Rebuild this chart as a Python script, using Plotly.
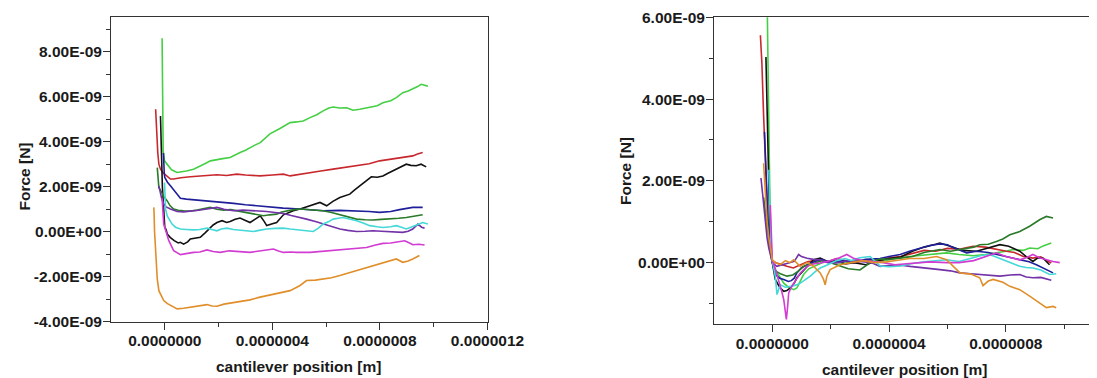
import plotly.graph_objects as go

# ---------------- data (x in nm, force in nN) ----------------
series_names = ["green", "red", "black", "blue", "darkgreen", "purple", "cyan", "magenta", "orange"]
series_colors = ["#45cf45", "#c8282d", "#111111", "#1f1f9a", "#2a7a2a", "#7232a8", "#45d8d8", "#d23cd2", "#e08e2a"]

# left panel
L_green_x = [-10, -6, -1, 9, 25, 46, 58, 80, 107, 125, 145, 170, 194, 215, 243, 262, 280, 300, 317, 335, 355, 391, 430, 466, 490, 515, 540, 565, 589, 610, 626, 650, 676, 700, 725, 745, 762, 790, 811, 840, 861, 885, 905, 922, 940, 953, 965, 978]
L_green_y = [8.6, 3.6, 3.15, 3.0, 2.75, 2.63, 2.65, 2.7, 2.78, 2.9, 3.0, 3.15, 3.22, 3.25, 3.30, 3.42, 3.52, 3.62, 3.74, 3.85, 3.96, 4.35, 4.6, 4.85, 4.88, 4.92, 5.07, 5.2, 5.37, 5.5, 5.54, 5.5, 5.51, 5.40, 5.44, 5.48, 5.51, 5.6, 5.73, 5.82, 5.96, 6.18, 6.25, 6.33, 6.45, 6.55, 6.5, 6.47]
L_red_x = [-34, -30, -26, -22, -16, -5, 10, 21, 33, 60, 95, 130, 160, 194, 230, 268, 300, 330, 354, 400, 441, 466, 503, 540, 580, 626, 670, 713, 760, 799, 840, 873, 900, 922, 940, 959]
L_red_y = [5.44, 4.3, 3.5, 3.0, 2.78, 2.6, 2.45, 2.34, 2.34, 2.4, 2.44, 2.48, 2.5, 2.53, 2.5, 2.56, 2.52, 2.5, 2.48, 2.52, 2.56, 2.48, 2.56, 2.63, 2.7, 2.78, 2.85, 2.93, 3.02, 3.15, 3.22, 3.30, 3.32, 3.37, 3.45, 3.52]
L_black_x = [-16, -14, -12, -9, -5, -2, 0, 5, 9, 20, 35, 50, 58, 70, 85, 95, 115, 132, 150, 163, 180, 194, 213, 230, 243, 262, 280, 300, 317, 335, 355, 370, 379, 400, 416, 441, 460, 478, 503, 540, 577, 602, 625, 651, 670, 688, 705, 725, 745, 768, 790, 811, 830, 848, 875, 898, 915, 935, 953, 972]
L_black_y = [5.14, 4.2, 3.0, 2.0, 1.2, 0.6, 0.19, 0.1, -0.1, -0.25, -0.4, -0.5, -0.47, -0.55, -0.45, -0.32, -0.3, -0.25, -0.05, 0.12, 0.3, 0.41, 0.49, 0.41, 0.45, 0.55, 0.61, 0.5, 0.41, 0.55, 0.71, 0.45, 0.27, 0.35, 0.41, 0.75, 0.85, 0.93, 1.01, 1.15, 1.30, 1.15, 1.35, 1.52, 1.58, 1.67, 1.85, 2.04, 2.25, 2.44, 2.42, 2.48, 2.60, 2.71, 2.85, 3.00, 2.95, 2.93, 3.00, 2.88]
L_blue_x = [-5, -4, -2, 0, 10, 21, 33, 46, 58, 80, 100, 132, 170, 200, 256, 300, 340, 379, 440, 503, 550, 589, 650, 713, 760, 799, 840, 873, 900, 922, 959]
L_blue_y = [3.5, 2.9, 2.6, 2.41, 2.2, 2.04, 1.85, 1.67, 1.49, 1.45, 1.43, 1.41, 1.36, 1.32, 1.26, 1.2, 1.15, 1.12, 1.05, 1.01, 0.97, 0.93, 0.95, 0.93, 0.90, 0.86, 0.90, 0.98, 1.02, 1.08, 1.08]
L_dgreen_x = [-28, -26, -24, -22, -16, -6, 9, 20, 33, 50, 70, 95, 120, 145, 169, 194, 218, 245, 268, 295, 317, 340, 367, 390, 416, 435, 453, 480, 503, 540, 589, 620, 651, 680, 713, 745, 774, 805, 836, 870, 898, 930, 959]
L_dgreen_y = [2.85, 2.4, 2.1, 1.96, 1.85, 1.6, 1.37, 1.15, 1.01, 0.95, 0.93, 0.92, 0.96, 1.02, 1.08, 1.0, 0.96, 0.98, 0.93, 0.85, 0.81, 0.75, 0.71, 0.75, 0.78, 0.88, 0.93, 0.98, 1.01, 0.98, 0.93, 0.85, 0.75, 0.65, 0.56, 0.53, 0.52, 0.55, 0.56, 0.6, 0.63, 0.68, 0.75]
L_purple_x = [-22, -18, -12, -5, 5, 21, 46, 70, 95, 125, 157, 175, 194, 220, 256, 290, 317, 350, 379, 410, 441, 470, 490, 527, 560, 589, 620, 651, 680, 713, 745, 774, 805, 836, 860, 885, 905, 922, 941, 955, 966]
L_purple_y = [2.04, 1.75, 1.5, 1.25, 1.1, 1.01, 0.90, 0.88, 0.90, 0.95, 1.01, 1.05, 1.08, 1.0, 0.93, 0.96, 0.93, 0.92, 0.90, 0.86, 0.81, 0.72, 0.67, 0.56, 0.45, 0.34, 0.24, 0.12, 0.06, 0.01, 0.02, 0.04, 0.02, 0.01, -0.02, -0.03, 0.02, 0.12, 0.34, 0.2, 0.16]
L_cyan_x = [-1, 1, 3, 9, 18, 27, 40, 58, 80, 107, 130, 157, 175, 194, 210, 231, 255, 280, 305, 330, 355, 379, 410, 441, 466, 490, 515, 552, 570, 589, 610, 626, 645, 663, 690, 713, 740, 762, 790, 811, 840, 861, 880, 898, 915, 935, 948, 959, 978]
L_cyan_y = [2.19, 1.5, 1.0, 0.7, 0.5, 0.34, 0.2, 0.12, 0.1, 0.08, 0.1, 0.16, 0.1, 0.04, 0.12, 0.16, 0.1, 0.08, 0.05, 0.01, 0.07, 0.12, 0.15, 0.16, 0.12, 0.08, 0.04, 0.01, 0.15, 0.34, 0.45, 0.56, 0.6, 0.63, 0.55, 0.49, 0.38, 0.27, 0.22, 0.19, 0.22, 0.27, 0.2, 0.12, 0.2, 0.27, 0.35, 0.41, 0.34]
L_magenta_x = [-10, -8, -4, 15, 33, 58, 80, 107, 130, 157, 180, 206, 240, 268, 290, 317, 345, 367, 390, 404, 420, 441, 470, 490, 540, 580, 614, 650, 688, 720, 750, 780, 811, 840, 861, 892, 910, 922, 945, 966]
L_magenta_y = [1.49, 0.9, 0.34, -0.40, -0.84, -1.02, -0.97, -0.92, -0.9, -0.81, -0.88, -0.92, -0.85, -0.87, -0.9, -0.92, -0.87, -0.84, -0.8, -0.77, -0.85, -0.92, -0.9, -0.92, -0.92, -0.88, -0.84, -0.8, -0.77, -0.74, -0.70, -0.6, -0.52, -0.5, -0.47, -0.40, -0.5, -0.58, -0.56, -0.59]
L_orange_x = [-41, -40, -38, -34, -28, -22, -10, -4, 10, 21, 46, 70, 95, 125, 157, 175, 194, 220, 256, 290, 317, 350, 379, 410, 441, 466, 503, 527, 560, 589, 620, 651, 680, 713, 745, 774, 805, 836, 861, 885, 905, 922, 947]
L_orange_y = [1.08, 0.9, 0.0, -1.14, -2.1, -2.62, -2.95, -3.06, -3.2, -3.28, -3.43, -3.40, -3.36, -3.3, -3.24, -3.3, -3.31, -3.22, -3.14, -3.08, -3.03, -2.92, -2.84, -2.75, -2.69, -2.62, -2.39, -2.17, -2.15, -2.10, -2.05, -1.95, -1.85, -1.73, -1.62, -1.51, -1.4, -1.29, -1.21, -1.36, -1.3, -1.21, -1.06]

# right panel
R_green_x = [-18, -16, -13, -9, -5, 0, 10, 25, 39, 55, 73, 84, 95, 107, 125, 141, 170, 200, 240, 280, 320, 369, 420, 470, 520, 560, 597, 640, 688, 730, 768, 800, 825, 860, 882, 910, 928, 956]
R_green_y = [6.5, 5.2, 3.5, 1.8, 0.5, 0.05, -0.17, -0.35, -0.50, -0.6, -0.66, -0.62, -0.45, -0.29, -0.15, -0.09, 0.0, 0.05, -0.02, 0.03, 0.06, 0.03, 0.1, 0.15, 0.18, 0.22, 0.24, 0.2, 0.17, 0.2, 0.24, 0.28, 0.32, 0.3, 0.36, 0.34, 0.41, 0.48]
R_red_x = [-41, -36, -30, -22, -15, -8, 0, 12, 30, 50, 72, 95, 120, 145, 165, 190, 220, 250, 280, 310, 340, 370, 400, 440, 480, 520, 560, 600, 640, 688, 730, 770, 802, 830, 860, 893, 920, 940, 956]
R_red_y = [5.56, 4.9, 3.6, 2.0, 0.9, 0.3, 0.05, 0.0, -0.05, -0.09, -0.13, -0.05, 0.02, 0.05, 0.07, 0.02, 0.10, 0.05, 0.0, 0.04, 0.08, 0.05, 0.12, 0.15, 0.22, 0.3, 0.28, 0.35, 0.33, 0.40, 0.38, 0.32, 0.28, 0.25, 0.15, 0.11, 0.14, 0.05, -0.01]
R_black_x = [-22, -19, -16, -12, -8, -4, 0, 10, 25, 39, 50, 62, 75, 84, 95, 107, 125, 141, 164, 190, 220, 250, 280, 320, 360, 400, 440, 480, 520, 560, 574, 610, 650, 700, 740, 780, 810, 848, 870, 893, 910, 928, 950]
R_black_y = [5.03, 4.0, 2.8, 1.5, 0.6, 0.25, 0.0, -0.41, -0.6, -0.70, -0.68, -0.62, -0.5, -0.37, -0.28, -0.17, -0.05, 0.07, 0.11, 0.02, 0.06, -0.03, 0.0, -0.05, 0.05, 0.10, 0.14, 0.28, 0.38, 0.45, 0.48, 0.40, 0.30, 0.28, 0.36, 0.44, 0.40, 0.28, 0.15, 0.03, 0.12, 0.11, -0.05]
R_blue_x = [-27, -24, -20, -15, -10, -5, 0, 10, 25, 39, 55, 65, 75, 84, 100, 120, 145, 170, 200, 240, 280, 320, 369, 400, 438, 470, 506, 540, 574, 600, 609, 640, 666, 700, 740, 770, 802, 830, 859, 880, 905, 920, 939, 962]
R_blue_y = [3.2, 2.6, 1.8, 1.0, 0.45, 0.15, 0.0, -0.29, -0.38, -0.41, -0.46, -0.44, -0.38, -0.25, -0.12, -0.05, 0.03, 0.08, 0.0, 0.05, 0.02, 0.08, 0.1, 0.15, 0.20, 0.28, 0.36, 0.42, 0.46, 0.44, 0.40, 0.32, 0.24, 0.28, 0.25, 0.2, 0.15, 0.10, 0.07, 0.02, -0.05, -0.10, -0.17, -0.25]
R_dgreen_x = [-30, -25, -20, -14, -8, -3, 0, 12, 30, 50, 70, 90, 110, 140, 170, 200, 230, 260, 300, 340, 369, 400, 438, 480, 520, 574, 610, 654, 690, 711, 740, 768, 790, 814, 848, 882, 916, 939, 962]
R_dgreen_y = [1.6, 1.3, 1.0, 0.6, 0.3, 0.1, 0.0, -0.21, -0.28, -0.33, -0.3, -0.2, -0.08, -0.02, 0.05, 0.0, -0.08, -0.15, -0.18, 0.02, 0.09, 0.08, 0.11, 0.15, 0.25, 0.32, 0.28, 0.33, 0.38, 0.44, 0.45, 0.52, 0.58, 0.68, 0.76, 0.89, 1.05, 1.13, 1.09]
R_purple_x = [-39, -35, -30, -24, -18, -12, -6, 0, 15, 38, 60, 75, 90, 100, 119, 140, 164, 190, 221, 260, 301, 340, 369, 392, 430, 472, 520, 574, 610, 643, 680, 711, 745, 780, 815, 848, 870, 893, 920, 956]
R_purple_y = [2.07, 1.8, 1.3, 0.9, 0.6, 0.35, 0.15, 0.0, -0.09, -0.05, 0.0, 0.03, 0.20, 0.15, 0.11, 0.08, 0.07, 0.0, -0.01, 0.05, 0.03, 0.0, -0.09, -0.07, -0.05, -0.09, -0.12, -0.17, -0.2, -0.25, -0.27, -0.29, -0.31, -0.33, -0.30, -0.29, -0.35, -0.37, -0.36, -0.43]
R_cyan_x = [-12, -10, -8, -5, -2, 0, 10, 16, 27, 45, 62, 80, 96, 115, 130, 150, 164, 190, 220, 250, 270, 300, 335, 369, 400, 440, 480, 520, 560, 597, 640, 680, 720, 745, 780, 820, 848, 870, 893, 920, 950, 973]
R_cyan_y = [2.27, 1.6, 1.0, 0.5, 0.2, 0.05, -0.33, -0.78, -0.54, -0.6, -0.58, -0.55, -0.50, -0.4, -0.33, -0.2, -0.13, -0.05, 0.05, 0.1, 0.05, 0.12, 0.15, -0.08, -0.1, -0.08, -0.02, 0.02, 0.05, 0.07, 0.03, 0.1, 0.18, 0.20, 0.10, 0.0, -0.09, -0.12, -0.13, -0.18, -0.29, -0.27]
R_magenta_x = [-7, -5, -3, -1, 0, 10, 21, 32, 39, 44, 48, 52, 56, 65, 73, 85, 96, 110, 119, 140, 164, 200, 230, 255, 278, 310, 350, 380, 420, 460, 500, 540, 597, 640, 690, 730, 768, 800, 848, 870, 893, 915, 939, 962, 985]
R_magenta_y = [1.41, 1.0, 0.6, 0.2, 0.05, -0.15, -0.41, -0.7, -0.9, -1.2, -1.39, -1.1, -0.74, -0.6, -0.5, -0.38, -0.25, -0.15, -0.09, -0.03, -0.01, 0.05, 0.12, 0.20, 0.11, 0.05, 0.02, 0.0, -0.05, -0.03, 0.0, 0.02, 0.0, 0.0, 0.05, 0.15, 0.24, 0.15, 0.07, 0.12, 0.20, 0.12, 0.07, 0.03, 0.0]
R_orange_x = [-30, -27, -23, -18, -12, -6, 0, 10, 27, 45, 60, 73, 95, 119, 140, 164, 175, 181, 187, 198, 232, 270, 310, 350, 390, 430, 470, 520, 563, 597, 620, 643, 680, 711, 722, 740, 757, 790, 814, 848, 882, 916, 939, 962, 973]
R_orange_y = [2.43, 2.0, 1.5, 1.0, 0.6, 0.3, 0.07, 0.0, -0.05, 0.05, 0.0, 0.07, -0.09, 0.0, -0.08, -0.25, -0.4, -0.54, -0.33, -0.17, -0.05, 0.0, 0.05, 0.0, 0.02, 0.06, 0.1, 0.1, 0.15, 0.07, -0.1, -0.25, -0.28, -0.37, -0.56, -0.45, -0.41, -0.48, -0.58, -0.66, -0.82, -0.98, -1.10, -1.07, -1.10]

left_series = [(L_green_x, L_green_y), (L_red_x, L_red_y), (L_black_x, L_black_y), (L_blue_x, L_blue_y),
               (L_dgreen_x, L_dgreen_y), (L_purple_x, L_purple_y), (L_cyan_x, L_cyan_y),
               (L_magenta_x, L_magenta_y), (L_orange_x, L_orange_y)]
right_series = [(R_green_x, R_green_y), (R_red_x, R_red_y), (R_black_x, R_black_y), (R_blue_x, R_blue_y),
                (R_dgreen_x, R_dgreen_y), (R_purple_x, R_purple_y), (R_cyan_x, R_cyan_y),
                (R_magenta_x, R_magenta_y), (R_orange_x, R_orange_y)]

# tick labels
x_tickvals = [0.0, 4e-7, 8e-7, 1.2e-6]
x_ticktext = ["0.0000000", "0.0000004", "0.0000008", "0.0000012"]
x_minor = [2e-7, 6e-7, 1.0e-6]
L_y_tickvals = [-4e-9, -2e-9, 0.0, 2e-9, 4e-9, 6e-9, 8e-9]
L_y_ticktext = ["-4.00E-09", "-2.00E-09", "0.00E+00", "2.00E-09", "4.00E-09", "6.00E-09", "8.00E-09"]
L_y_minor = [-3e-9, -1e-9, 1e-9, 3e-9, 5e-9, 7e-9, 9e-9]
R_y_tickvals = [0.0, 2e-9, 4e-9, 6e-9]
R_y_ticktext = ["0.00E+00", "2.00E-09", "4.00E-09", "6.00E-09"]
R_y_minor = [-1e-9, 1e-9, 3e-9, 5e-9]

NM = 1e-9
NN = 1e-9

fig = go.Figure()
for (xs, ys), name, col in zip(left_series, series_names, series_colors):
    fig.add_trace(go.Scatter(x=[v * NM for v in xs], y=[v * NN for v in ys], mode="lines",
                             line=dict(color=col, width=1.6), name=name, showlegend=False,
                             xaxis="x", yaxis="y"))
for (xs, ys), name, col in zip(right_series, series_names, series_colors):
    fig.add_trace(go.Scatter(x=[v * NM for v in xs], y=[v * NN for v in ys], mode="lines",
                             line=dict(color=col, width=1.6), name=name, showlegend=False,
                             xaxis="x2", yaxis="y2"))

W, H = 1097.0, 378.0
OFF = 8.0  # page body margin


def px_x(p):
    return (p - OFF) / W


def px_y(p):
    return 1 - (p - OFF) / H


tickfont = dict(family="Liberation Sans, Arial, sans-serif", size=15.5, color="#1a1a1a", weight="bold")
axis_common = dict(showgrid=False, zeroline=False, showline=True, linecolor="#333333", linewidth=1,
                   mirror=True, ticks="outside", ticklen=7, tickwidth=1, tickcolor="#333333",
                   tickfont=tickfont, tickmode="array", automargin=False)
minor_common = dict(tickmode="array", ticks="outside", ticklen=4, tickcolor="#333333")

fig.update_layout(
    template="none",
    width=1097, height=378,
    margin=dict(l=0, r=0, t=0, b=0),
    paper_bgcolor="white", plot_bgcolor="white",
    showlegend=False,
    xaxis=dict(domain=[px_x(111), px_x(487.5)], range=[-2e-7, 1.2e-6], anchor="y",
               tickvals=x_tickvals, ticktext=x_ticktext, ticklabelstandoff=-2,
               minor=dict(tickvals=x_minor, **minor_common), **axis_common),
    yaxis=dict(domain=[px_y(321.7), px_y(17.3)], range=[-4e-9, 9.53e-9], anchor="x",
               tickvals=L_y_tickvals, ticktext=L_y_ticktext, ticklabelstandoff=-2,
               minor=dict(tickvals=L_y_minor, **minor_common), **axis_common),
    xaxis2=dict(domain=[px_x(714), px_x(1093.3)], range=[-2e-7, 1.1e-6], anchor="y2",
                tickvals=x_tickvals[:3], ticktext=x_ticktext[:3], ticklabelstandoff=-2,
                minor=dict(tickvals=x_minor, **minor_common), **axis_common),
    yaxis2=dict(domain=[px_y(324), px_y(17.3)], range=[-1.5e-9, 6e-9], anchor="x2",
                tickvals=R_y_tickvals, ticktext=R_y_ticktext, ticklabelstandoff=-2,
                minor=dict(tickvals=R_y_minor, **minor_common), **axis_common),
)

title_font = dict(family="Liberation Sans, Arial, sans-serif", size=15.5, color="#1a1a1a", weight="bold")
ann = [
    dict(text="Force [N]", x=px_x(23.5), y=px_y(177), textangle=-90),
    dict(text="Force [N]", x=px_x(626), y=px_y(171), textangle=-90),
    dict(text="cantilever position [m]", x=px_x(298.5), y=px_y(366.5), textangle=0),
    dict(text="cantilever position [m]", x=px_x(904), y=px_y(369), textangle=0),
]
for a in ann:
    fig.add_annotation(xref="paper", yref="paper", xanchor="center", yanchor="middle",
                       showarrow=False, font=title_font, **a)

fig.write_html("out.html")
